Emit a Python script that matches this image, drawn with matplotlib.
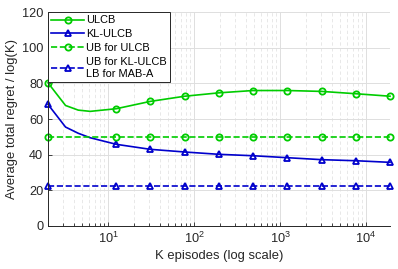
import matplotlib
matplotlib.use('Agg')
import matplotlib.pyplot as plt
from matplotlib.ticker import LogLocator, NullFormatter

plt.rcParams['font.family'] = ['Liberation Sans', 'DejaVu Sans']

# episodes K (log scale) and regret / log(K)
k = [2, 3.2, 4.5, 6.2, 12.5, 31, 78, 195, 488, 1220, 3052, 7629, 19073]
ulcb = [80.3, 67.6, 65.0, 64.3, 65.8, 69.9, 72.8, 74.7, 76.0, 76.0, 75.5, 74.2, 72.8]
kl_ulcb = [68.2, 55.5, 52.0, 49.5, 45.8, 43.0, 41.5, 40.2, 39.4, 38.3, 37.2, 36.6, 35.7]
marks = [0, 4, 5, 6, 7, 8, 9, 10, 11, 12]

k_ub = [k[i] for i in marks]
ub_ulcb = [50] * len(k_ub)
ub_kl = [22.7] * len(k_ub)

green = '#00cc00'
blue = '#0000cc'

fig = plt.figure(figsize=(3.98, 2.69), dpi=100)
ax = fig.add_axes([0.1206, 0.160, 0.8594, 0.795])

mk = dict(markersize=4.5, markerfacecolor='none', markeredgewidth=1.3, clip_on=False)
ax.plot(k, ulcb, '-', color=green, marker='o', markevery=marks, lw=1.2, label='ULCB', **mk)
ax.plot(k, kl_ulcb, '-', color=blue, marker='^', markevery=marks, lw=1.2, label='KL-ULCB', **mk)
ax.plot(k_ub, ub_ulcb, '--', color=green, marker='o', lw=1.2, label='UB for ULCB', **mk)
ax.plot(k_ub, ub_kl, '--', color=blue, marker='^', lw=1.2, label='UB for KL-ULCB\nLB for MAB-A', **mk)

ax.set_xscale('log')
ax.set_xlim(k[0], k[-1])
ax.set_ylim(0, 120)
ax.set_yticks([0, 20, 40, 60, 80, 100, 120])
ax.xaxis.set_minor_locator(LogLocator(base=10, subs=range(2, 10), numticks=20))
ax.xaxis.set_minor_formatter(NullFormatter())

ax.grid(True, which='major', color='#dedede', lw=0.7)
ax.grid(True, which='minor', axis='x', color='#e4e4e4', lw=0.6, ls=(0, (4, 3)))
ax.set_axisbelow(True)
ax.tick_params(direction='in', labelsize=9.2, colors='#262626', length=3, width=0.6)
ax.tick_params(which='minor', direction='in', length=2, width=0.5)
for s in ['top', 'right']:
    ax.spines[s].set_visible(False)
for s in ['left', 'bottom']:
    ax.spines[s].set_color('#262626')
    ax.spines[s].set_linewidth(0.7)

ax.set_xlabel('K episodes (log scale)', fontsize=9.4, color='#262626', labelpad=3)
ax.set_ylabel('Average total regret / log(K)', fontsize=9.4, color='#262626', labelpad=3)

leg = ax.legend(loc='upper left', bbox_to_anchor=(0, 1), borderaxespad=0, fontsize=7.9,
                fancybox=False, framealpha=1, edgecolor='#262626', handlelength=3.0,
                handletextpad=0.2, labelspacing=0.35, borderpad=0.3)
leg.get_frame().set_linewidth(0.7)

fig.savefig('out.png', dpi=100)
